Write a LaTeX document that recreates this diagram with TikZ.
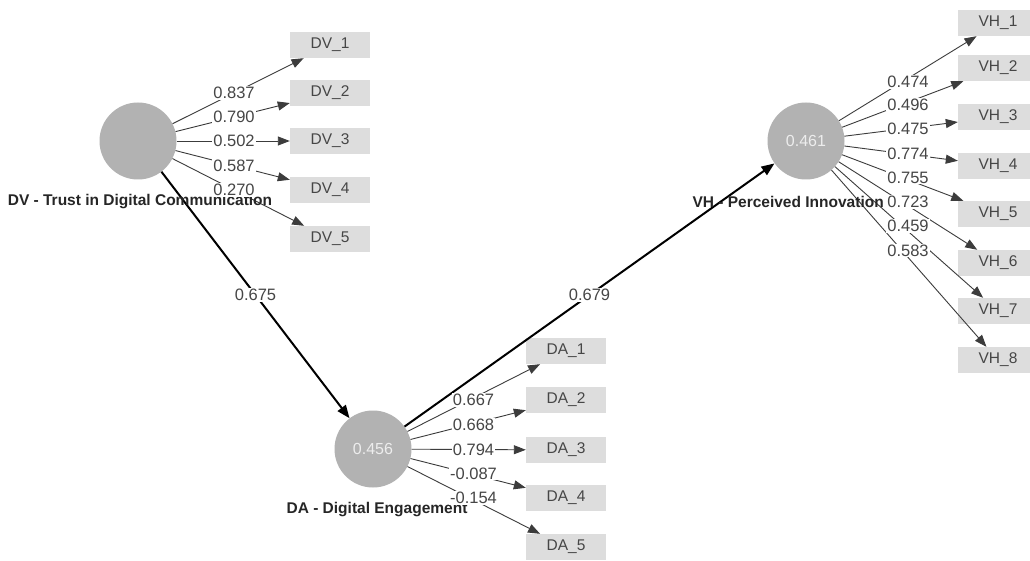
\documentclass[tikz,border=0pt]{standalone}
\usepackage{fontspec}
\setmainfont{Liberation Sans}
\usetikzlibrary{arrows.meta,calc}
\definecolor{circc}{RGB}{178,178,178}
\definecolor{indc}{RGB}{221,221,221}
\definecolor{lnc}{RGB}{60,60,60}
\definecolor{txc}{RGB}{70,70,70}
\begin{document}
\begin{tikzpicture}[x=1pt,y=-1pt,
  lv/.style={circle, fill=circc, minimum size=77pt, inner sep=0pt, text=white!93!black, font=\fontsize{16}{16}\selectfont},
  ind/.style={rectangle, fill=indc, minimum width=80pt, minimum height=26pt, inner sep=0pt, text=txc, font=\fontsize{15.5}{15.5}\selectfont},
  load/.style={-{Triangle[length=12pt,width=9pt]}, draw=lnc, line width=0.9pt},
  pth/.style={-{Triangle[length=13pt,width=10pt]}, draw=black, line width=2pt},
  lbl/.style={fill=white, inner sep=1pt, text=txc, font=\fontsize{16.5}{16.5}\selectfont},
  lvname/.style={text=black!85, font=\bfseries\fontsize{15.5}{15.5}\selectfont}]
\clip (0,0) rectangle (1030,561);
\fill[white] (0,0) rectangle (1030,561);
% latent variables
\node[lv] (dv) at (138,141) {};
\node[lv] (da) at (373,449) {0.456};
\node[lv] (vh) at (806,141) {0.461};
% indicators DV
\node[ind] (dv1) at (330,45) {DV\_1};
\node[ind] (dv2) at (330,93) {DV\_2};
\node[ind] (dv3) at (330,141) {DV\_3};
\node[ind] (dv4) at (330,190) {DV\_4};
\node[ind] (dv5) at (330,239) {DV\_5};
% indicators DA
\node[ind] (da1) at (566,351) {DA\_1};
\node[ind] (da2) at (566,400) {DA\_2};
\node[ind] (da3) at (566,450) {DA\_3};
\node[ind] (da4) at (566,498) {DA\_4};
\node[ind] (da5) at (566,547) {DA\_5};
% indicators VH
\node[ind] (vh1) at (998,23) {VH\_1};
\node[ind] (vh2) at (998,68) {VH\_2};
\node[ind] (vh3) at (998,117) {VH\_3};
\node[ind] (vh4) at (998,166) {VH\_4};
\node[ind] (vh5) at (998,214) {VH\_5};
\node[ind] (vh6) at (998,263) {VH\_6};
\node[ind] (vh7) at (998,311) {VH\_7};
\node[ind] (vh8) at (998,360) {VH\_8};
% loading arrows
\foreach \i in {1,...,5} {\draw[load] (dv) -- (dv\i);}
\foreach \i in {1,...,5} {\draw[load] (da) -- (da\i);}
\foreach \i in {1,...,8} {\draw[load] (vh) -- (vh\i);}
% structural paths
\draw[pth] (dv) -- (da);
\draw[pth] (da) -- (vh);
% names
\node[lvname] (dvname) at (140,202) {DV - Trust in Digital Communication};
\node[lvname] (daname) at (377,510) {DA - Digital Engagement};
\node[lvname, anchor=west] (vhname) at (689,202) {VH - Perceived Innovation};
% labels
\node[lbl] (l675) at ($(dv)!0.5!(da)$) {0.675};
\node[lbl] (l679) at ($(da)!0.5!(vh)$) {0.679};
\foreach \i/\v in {1/0.837,2/0.790,3/0.502,4/0.587,5/0.270}
  {\node[lbl] (ldv\i) at ($(dv)!0.5!(dv\i)$) {\v};}
\foreach \i/\v in {1/0.667,2/0.668,3/0.794,4/-0.087,5/-0.154}
  {\node[lbl] (lda\i) at ($(da)!0.5!(da\i)+(4,0)$) {\v};}
\foreach \i/\v in {1/0.474,2/0.496,3/0.475,4/0.774,5/0.755,6/0.723,7/0.459,8/0.583}
  {\node[lbl] (lvh\i) at ($(vh)!0.5!(vh\i)+(6,0)$) {\v};}
\end{tikzpicture}
\end{document}
